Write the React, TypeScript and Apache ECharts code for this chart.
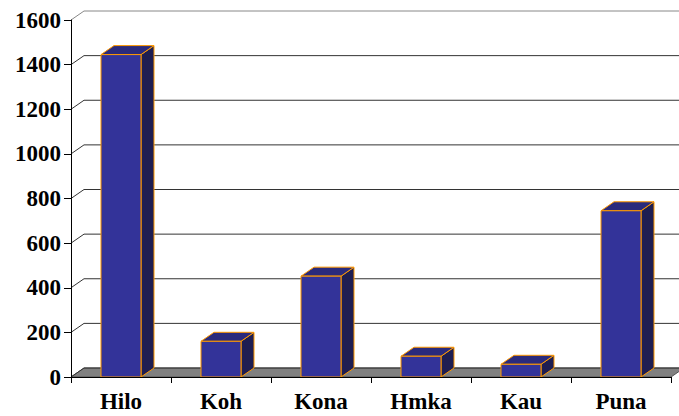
import React, { useEffect, useRef } from "react";
import * as echarts from "echarts";

const categories = ["Hilo", "Koh", "Kona", "Hmka", "Kau", "Puna"];
const values = [1445, 160, 452, 93, 57, 745];
const gridValues = [0, 200, 400, 600, 800, 1000, 1200, 1400, 1600];

const DX = 13;
const DY = -9;
const FONT = "'Liberation Serif', 'Times New Roman', serif";

export default function App() {
  const ref = useRef<HTMLDivElement>(null);
  useEffect(() => {
    if (!ref.current) return;
    const chart = echarts.init(ref.current, undefined, { renderer: "svg" });
    chart.setOption({
      animation: false,
      backgroundColor: "#ffffff",
      grid: { left: 71, right: 8, top: 20, bottom: 39, containLabel: false },
      xAxis: {
        type: "category",
        data: categories,
        z: 10,
        axisLine: { show: true, lineStyle: { color: "#000", width: 1 } },
        axisTick: { show: true, length: 6, lineStyle: { color: "#000" } },
        axisLabel: {
          color: "#000",
          fontFamily: FONT,
          fontWeight: "bold",
          fontSize: 23,
          margin: 13,
        },
        splitLine: { show: false },
      },
      yAxis: {
        type: "value",
        min: 0,
        max: 1600,
        interval: 200,
        z: 10,
        axisLine: { show: true, lineStyle: { color: "#000", width: 1 } },
        axisTick: { show: true, length: 7, lineStyle: { color: "#000" } },
        axisLabel: {
          color: "#000",
          fontFamily: FONT,
          fontWeight: "bold",
          fontSize: 23,
          margin: 10,
          formatter: (v: number) => String(v),
        },
        splitLine: { show: false },
      },
      series: [
        {
          type: "custom",
          z: 1,
          clip: false,
          silent: true,
          data: gridValues.map((v) => [0, v]),
          renderItem: (params: any, api: any) => {
            const v = api.value(1);
            const cs = params.coordSys;
            const y = api.coord([0, v])[1];
            const x0 = cs.x;
            const x1 = cs.x + cs.width;
            const children: any[] = [];
            if (v === 0) {
              children.push({
                type: "polygon",
                shape: {
                  points: [
                    [x0, y],
                    [x1, y],
                    [x1 + DX, y + DY],
                    [x0 + DX, y + DY],
                  ],
                },
                style: { fill: "#808080", stroke: "#555", lineWidth: 1 },
              });
            }
            children.push({
              type: "polyline",
              shape: {
                points: [
                  [x0, y],
                  [x0 + DX, y + DY],
                  [x1 + DX, y + DY],
                ],
              },
              style: {
                fill: "none",
                stroke: v === 1600 ? "#888" : "#333",
                lineWidth: 1,
              },
            });
            return { type: "group", children };
          },
        },
        {
          type: "custom",
          z: 3,
          clip: false,
          data: values.map((v, i) => [i, v]),
          renderItem: (params: any, api: any) => {
            const idx = api.value(0);
            const val = api.value(1);
            const base = api.coord([idx, 0]);
            const top = api.coord([idx, val]);
            const bw = api.size([1, 0])[0] * 0.4;
            const x0 = base[0] - bw / 2;
            const x1 = x0 + bw;
            const yT = top[1];
            const yB = base[1];
            const edge = { stroke: "#ff9900", lineWidth: 1 };
            return {
              type: "group",
              children: [
                {
                  type: "polygon",
                  shape: {
                    points: [
                      [x1, yB],
                      [x1 + DX, yB + DY],
                      [x1 + DX, yT + DY],
                      [x1, yT],
                    ],
                  },
                  style: { fill: "#1e1e52", ...edge },
                },
                {
                  type: "polygon",
                  shape: {
                    points: [
                      [x0, yT],
                      [x1, yT],
                      [x1 + DX, yT + DY],
                      [x0 + DX, yT + DY],
                    ],
                  },
                  style: { fill: "#2a2a7c", ...edge },
                },
                {
                  type: "rect",
                  shape: { x: x0, y: yT, width: bw, height: yB - yT },
                  style: { fill: "#333399", ...edge },
                },
              ],
            };
          },
        },
      ],
    });
    return () => chart.dispose();
  }, []);
  return (
    <div
      ref={ref}
      style={{ position: "fixed", left: 0, top: 0, width: 679, height: 416 }}
    />
  );
}
